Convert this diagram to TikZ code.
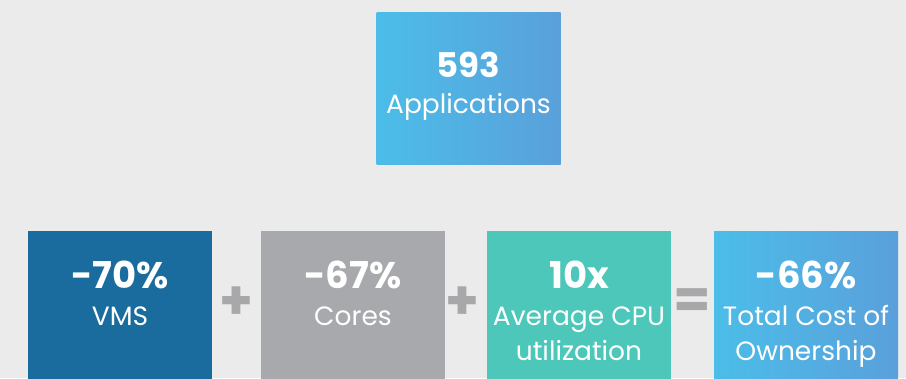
\documentclass[tikz,border=0pt]{standalone}
\usepackage{fontspec}
\setmainfont{Poppins}
\usetikzlibrary{positioning}

\definecolor{bggrey}{HTML}{EBEBEB}
\definecolor{vmsblue}{HTML}{1A6C9E}
\definecolor{coregrey}{HTML}{A8A9AC}
\definecolor{cputeal}{HTML}{4DC7BA}
\definecolor{skyleft}{HTML}{4BBDE8}
\definecolor{skyright}{HTML}{5AA0DB}
\definecolor{signgrey}{HTML}{A8A8AA}

\begin{document}
\begin{tikzpicture}[x=1pt, y=-1pt,
    box/.style = {minimum width=184pt, minimum height=170pt, inner sep=0pt, anchor=north},
    skybox/.style = {box, shade, shading angle=90, left color=skyleft, right color=skyright},
    num/.style = {text=white, anchor=base, font=\fontsize{37}{37}\selectfont\bfseries},
    txt/.style = {text=white, anchor=base, align=center, font=\fontsize{26.5}{35}\selectfont},
    sign/.style = {text=signgrey, font=\fontsize{54}{54}\selectfont\bfseries}]
    \useasboundingbox[fill=bggrey] (0,0) rectangle (906,378);
    \clip (0,0) rectangle (906,378);

    % top box
    \node[skybox, minimum height=152pt] (apps) at (468.5,12) {};
    \node[num, font=\fontsize{34}{34}\selectfont\bfseries] (apps-num) at (468.5,77) {593};
    \node[txt] (apps-txt) at (468.5,113) {Applications};

    % bottom row
    \node[box, fill=vmsblue] (vms) at (120,231) {};
    \node[box, fill=coregrey] (cores) at (353,231) {};
    \node[box, fill=cputeal] (cpu) at (579,231) {};
    \node[skybox] (tco) at (806,231) {};

    \node[num] (vms-num) at (120,288) {-70\%};
    \node[txt] (vms-txt) at (120,325) {VMS};
    \node[num] (cores-num) at (353,288) {-67\%};
    \node[txt] (cores-txt) at (353,325) {Cores};
    \node[num] (cpu-num) at (579,288) {10x};
    % two-line texts sit on the last line's base
    \node[txt] (cpu-txt) at (579,360) {Average CPU\\utilization};
    \node[num] (tco-num) at (806,288) {-66\%};
    \node[txt] (tco-txt) at (806,360) {Total Cost of\\Ownership};

    \node[sign] (plus-a) at (236.5,303.5) {+};
    \node[sign] (plus-b) at (462.5,303.5) {+};
    \node[sign] (equals) at (692.5,304) {=};
\end{tikzpicture}
\end{document}
